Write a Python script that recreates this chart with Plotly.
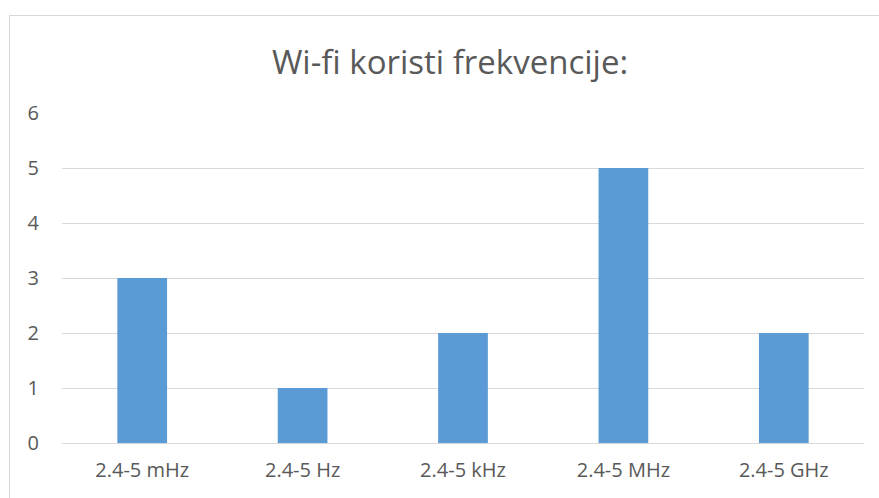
import plotly.graph_objects as go

categories = ["2.4-5 mHz", "2.4-5 Hz", "2.4-5 kHz", "2.4-5 MHz", "2.4-5 GHz"]
values = [3, 1, 2, 5, 2]
y_ticks = [0, 1, 2, 3, 4, 5, 6]

W, H = 879, 498
L, R, T, B = 62, 15, 113, 55
pw, ph = W - L - R, H - T - B

fig = go.Figure(go.Bar(x=categories, y=values, marker_color="#5B9BD5",
                       marker_line_width=0))

fig.update_layout(
    width=W, height=H,
    margin=dict(l=L, r=R, t=T, b=B),
    paper_bgcolor="white", plot_bgcolor="white",
    bargap=0.69,
    showlegend=False,
    font=dict(family="Open Sans", color="#595959", size=20),
    title=dict(text="Wi-fi koristi frekvencije:", x=450 / W, xanchor="center",
               y=1 - 62 / H, yanchor="middle",
               font=dict(size=33, color="#595959", family="Open Sans")),
    xaxis=dict(showgrid=False, showline=False, zeroline=False,
               tickfont=dict(size=20, color="#595959"), ticklabelstandoff=13),
    yaxis=dict(range=[0, 6], tickvals=y_ticks, showgrid=True, gridcolor="#D9D9D9",
               gridwidth=1, zeroline=True, zerolinecolor="#D9D9D9", zerolinewidth=1,
               showline=False, tickfont=dict(size=20, color="#595959"),
               ticklabelstandoff=22),
    shapes=[dict(type="rect", xref="paper", yref="paper",
                 x0=(9.5 - L) / pw, x1=(W + 20 - L) / pw,
                 y0=-0.5, y1=(H - B - 15.5) / ph,
                 line=dict(color="#D9D9D9", width=1), fillcolor="rgba(0,0,0,0)",
                 layer="below")],
)

fig.write_html("out.html", config={"displayModeBar": False},
               post_script="document.body.style.margin='0';document.body.style.overflow='hidden';")
